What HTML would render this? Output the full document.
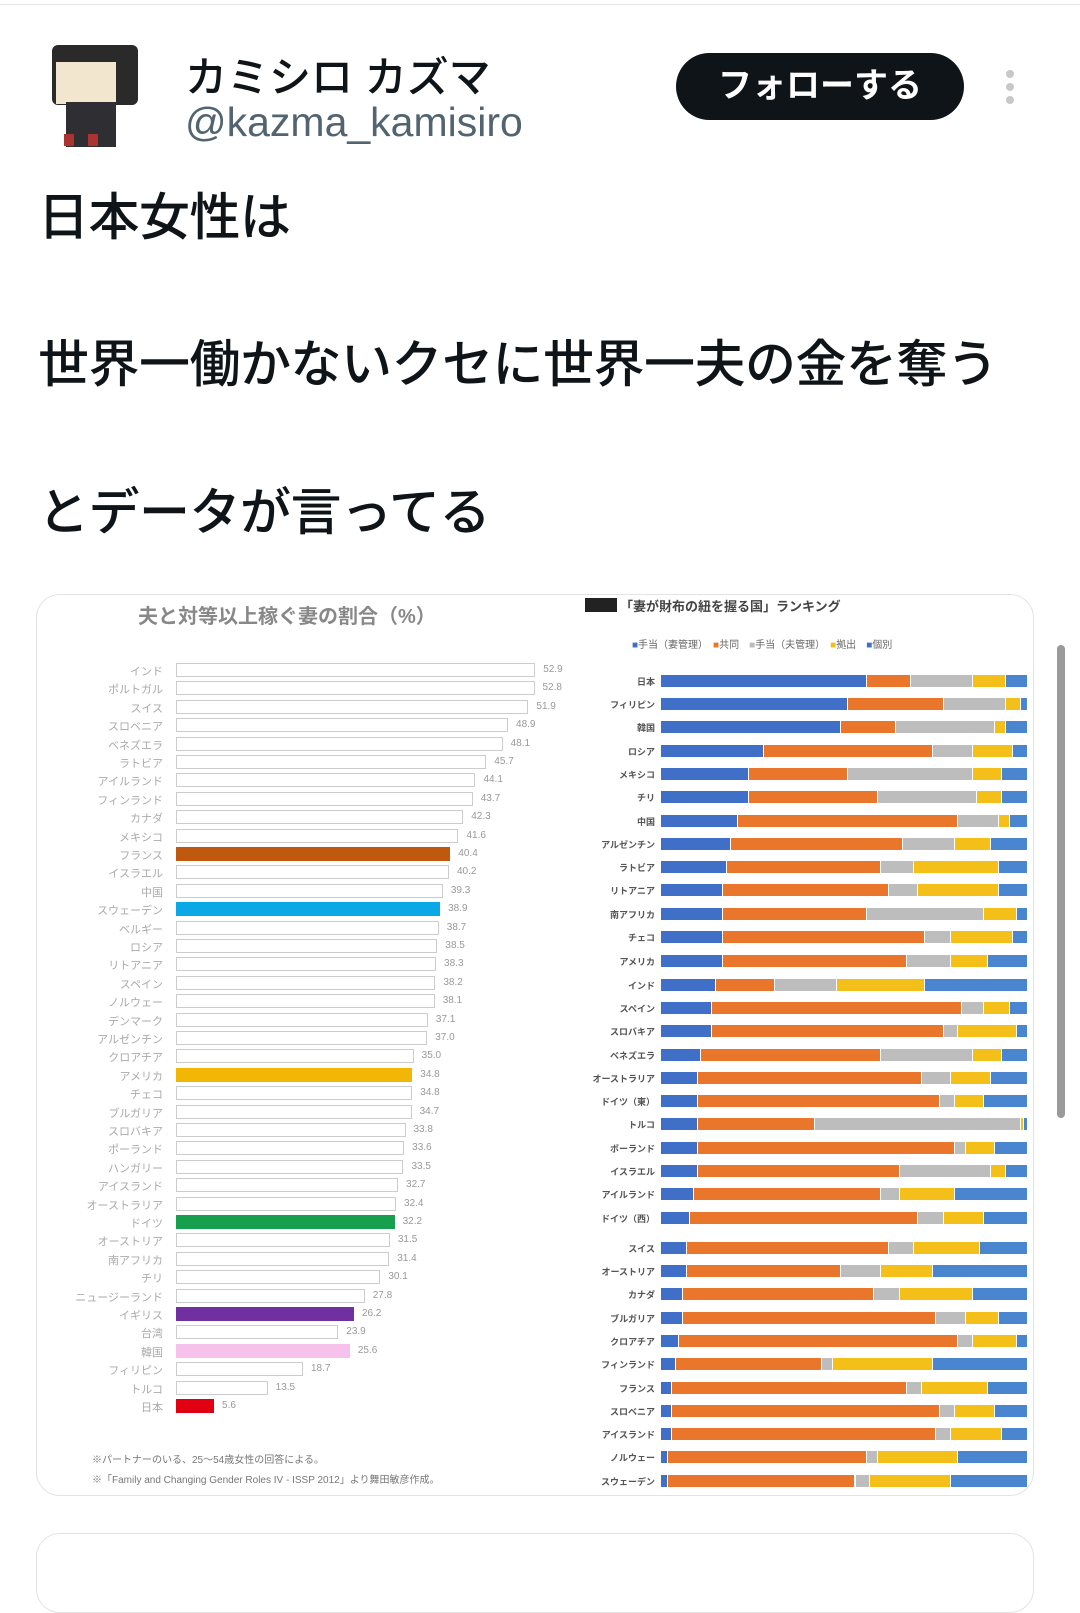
<!DOCTYPE html>
<html><head><meta charset="utf-8">
<style>
*{margin:0;padding:0;box-sizing:border-box}
body{width:1080px;height:1586px;background:#fff;position:relative;overflow:hidden;font-family:"Liberation Sans","Noto Sans CJK JP",sans-serif;color:#0f1419}
.abs{position:absolute}
.tw{font-size:51px;font-weight:500;left:38px;white-space:nowrap;letter-spacing:-0.5px}
.lab{position:absolute;font-size:11px;color:#aaa;text-align:right;white-space:nowrap}
.val{position:absolute;font-size:10px;color:#999;white-space:nowrap}
.rl{position:absolute;font-size:9px;color:#555;text-align:right;white-space:nowrap;width:80px;font-weight:bold}
</style></head><body>
<div class="abs" style="left:0;top:4px;width:1080px;height:1px;background:#e6e6e6"></div>
<div class="abs" style="left:52px;top:45px;width:86px;height:60px;background:#2a2a2a;border-radius:6px"></div>
<div class="abs" style="left:56px;top:62px;width:60px;height:42px;background:#f3e6cf"></div>
<div class="abs" style="left:66px;top:102px;width:50px;height:45px;background:#2f2f33"></div>
<div class="abs" style="left:64px;top:134px;width:10px;height:12px;background:#a33"></div>
<div class="abs" style="left:88px;top:134px;width:10px;height:12px;background:#a33"></div>
<div class="abs" style="left:185px;top:44px;font-size:42px;font-weight:500">カミシロ カズマ</div>
<div class="abs" style="left:185px;top:99px;font-size:41px;color:#536471">@kazma_kamisiro</div>
<div class="abs" style="left:676px;top:53px;width:288px;height:67px;background:#0f1419;border-radius:34px;color:#fff;font-size:34px;font-weight:bold;text-align:center;line-height:67px">フォローする</div>
<div class="abs" style="left:1006px;top:70px;width:8px;height:8px;border-radius:4px;background:#c8c8c8"></div>
<div class="abs" style="left:1006px;top:83px;width:8px;height:8px;border-radius:4px;background:#c8c8c8"></div>
<div class="abs" style="left:1006px;top:96px;width:8px;height:8px;border-radius:4px;background:#c8c8c8"></div>
<div class="abs tw" style="top:176px">日本女性は</div>
<div class="abs tw" style="top:323px">世界一働かないクセに世界一夫の金を奪う</div>
<div class="abs tw" style="top:471px">とデータが言ってる</div>
<div class="abs" style="left:36px;top:594px;width:998px;height:902px;border:1px solid #e3e3e3;border-radius:24px"></div>
<div class="abs" style="left:36px;top:1533px;width:998px;height:80px;border:1px solid #e3e3e3;border-radius:24px"></div>
<div class="abs" style="left:1057px;top:645px;width:8px;height:473px;background:#9a9a9a;border-radius:4px"></div>
<div class="abs" style="left:138px;top:600px;font-size:20px;font-weight:bold;color:#888">夫と対等以上稼ぐ妻の割合（%）</div>
<div class="abs" style="left:585px;top:598px;width:32px;height:14px;background:#222"></div>
<div class="abs" style="left:620px;top:596px;font-size:13px;font-weight:bold;color:#444">「妻が財布の紐を握る国」ランキング</div>
<div class="abs" style="left:632px;top:636px;font-size:10px;color:#666;white-space:nowrap"><span style="color:#3f6fc7">■</span>手当（妻管理）　<span style="color:#e9762b">■</span>共同　<span style="color:#bbb">■</span>手当（夫管理）　<span style="color:#f5bf1a">■</span>拠出　<span style="color:#3f6fc7">■</span>個別</div>
<div class="abs" style="left:92px;top:1451px;font-size:10px;color:#777">※パートナーのいる、25〜54歳女性の回答による。</div>
<div class="abs" style="left:92px;top:1471px;font-size:10px;color:#777">※「Family and Changing Gender Roles IV - ISSP 2012」より舞田敏彦作成。</div>
<div id="L"></div><div id="R"></div>
<script>
var L=[["インド",52.9],["ポルトガル",52.8],["スイス",51.9],["スロベニア",48.9],["ベネズエラ",48.1],["ラトビア",45.7],["アイルランド",44.1],["フィンランド",43.7],["カナダ",42.3],["メキシコ",41.6],["フランス",40.4,"#c0580f"],["イスラエル",40.2],["中国",39.3],["スウェーデン",38.9,"#0aa8e4"],["ベルギー",38.7],["ロシア",38.5],["リトアニア",38.3],["スペイン",38.2],["ノルウェー",38.1],["デンマーク",37.1],["アルゼンチン",37.0],["クロアチア",35.0],["アメリカ",34.8,"#f2b705"],["チェコ",34.8],["ブルガリア",34.7],["スロバキア",33.8],["ポーランド",33.6],["ハンガリー",33.5],["アイスランド",32.7],["オーストラリア",32.4],["ドイツ",32.2,"#16a04e"],["オーストリア",31.5],["南アフリカ",31.4],["チリ",30.1],["ニュージーランド",27.8],["イギリス",26.2,"#7030a0"],["台湾",23.9],["韓国",25.6,"#f6c2ec"],["フィリピン",18.7],["トルコ",13.5],["日本",5.6,"#e00012"]];
var h="";
L.forEach(function(d,i){var y=663+i*18.4,w=d[1]*6.79;
h+='<div class="lab" style="left:20px;width:143px;top:'+(y)+'px">'+d[0]+'</div>';
h+='<div class="abs" style="left:176px;top:'+y+'px;width:'+w+'px;height:14px;'+(d[2]?'background:'+d[2]:'border:1px solid #ccc;background:#fff')+'"></div>';
h+='<div class="val" style="left:'+(184+w)+'px;top:'+(y+1)+'px">'+d[1].toFixed(1)+'</div>';});
document.getElementById('L').innerHTML=h;
var R=[["日本",56,12,17,9,6],["フィリピン",51,26,17,4,2],["韓国",49,15,27,3,6],["ロシア",28,46,11,11,4],["メキシコ",24,27,34,8,7],["チリ",24,35,27,7,7],["中国",21,60,11,3,5],["アルゼンチン",19,47,14,10,10],["ラトビア",18,42,9,23,8],["リトアニア",17,45,8,22,8],["南アフリカ",17,39,32,9,3],["チェコ",17,55,7,17,4],["アメリカ",17,50,12,10,11],["インド",15,16,17,24,28],["スペイン",14,68,6,7,5],["スロバキア",14,63,4,16,3],["ベネズエラ",11,49,25,8,7],["オーストラリア",10,61,8,11,10],["ドイツ（東）",10,66,4,8,12],["トルコ",10,32,56,1,1],["ポーランド",10,70,3,8,9],["イスラエル",10,55,25,4,6],["アイルランド",9,51,5,15,20],["ドイツ（西）",8,62,7,11,12],["スイス",7,55,7,18,13],["オーストリア",7,42,11,14,26],["カナダ",6,52,7,20,15],["ブルガリア",6,69,8,9,8],["クロアチア",5,76,4,12,3],["フィンランド",4,40,3,27,26],["フランス",3,64,4,18,11],["スロベニア",3,73,4,11,9],["アイスランド",3,72,4,14,7],["ノルウェー",2,54,3,22,19],["スウェーデン",2,51,4,22,21]];
var ys=[681,704,727,751,774,797,821,844,867,890,914,937,961,985,1008,1031,1055,1078,1101,1124,1148,1171,1194,1218,1248,1271,1294,1318,1341,1364,1388,1411,1434,1457,1481];
var C=["#3f6fc7","#e9762b","#bdbdbd","#f5bf1a","#4a86cf"];h="";
R.forEach(function(d,i){var y=ys[i]-6,x=661,s=d[1]+d[2]+d[3]+d[4]+d[5];
h+='<div class="rl" style="left:575px;top:'+(y)+'px">'+d[0]+'</div>';
for(var k=0;k<5;k++){var w=d[k+1]/s*367;h+='<div class="abs" style="left:'+x+'px;top:'+y+'px;width:'+w+'px;height:12px;background:'+C[k]+';border-right:1px solid #fff"></div>';x+=w;}});
document.getElementById('R').innerHTML=h;
</script>
</body></html>
